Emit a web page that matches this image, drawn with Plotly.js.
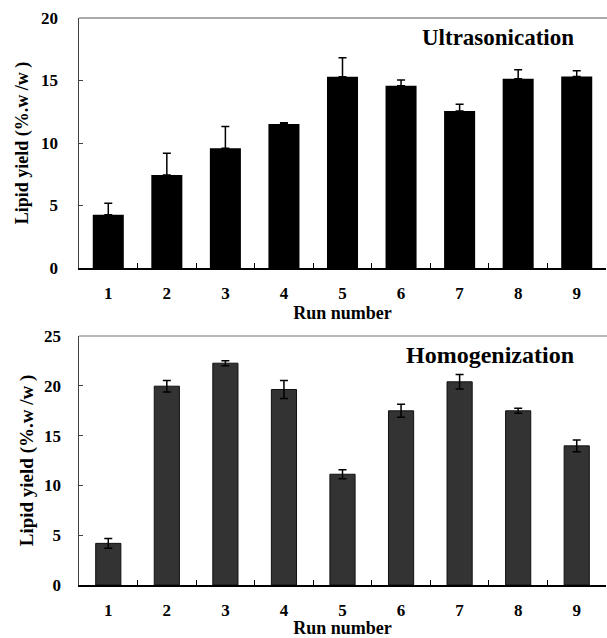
<!DOCTYPE html>
<html>
<head>
<meta charset="utf-8">
<script src="https://cdn.plot.ly/plotly-3.0.1.min.js"></script>
<style>html,body{margin:0;padding:0;background:#fff;}#chart{width:607px;height:638px;}</style>
</head>
<body>
<div id="chart"></div>
<script>
const runs = ['1','2','3','4','5','6','7','8','9'];
const ultraYield = [4.26, 7.45, 9.58, 11.52, 15.3, 14.58, 12.56, 15.14, 15.33];
const ultraErr = [0.93, 1.74, 1.73, 0.1, 1.52, 0.46, 0.54, 0.72, 0.45];
const homoYield = [4.18, 19.96, 22.27, 19.63, 11.12, 17.49, 20.4, 17.49, 13.97];
const homoErr = [0.5, 0.57, 0.25, 0.9, 0.45, 0.65, 0.73, 0.25, 0.6];
const panelLabels = ['Ultrasonication', 'Homogenization'];
const xTitle = 'Run number';
const yTitle = 'Lipid yield (%.w /w )';

const serif = 'Liberation Serif, Times New Roman, serif';
const tickFont = {family: serif, size: 17, color: '#000', weight: 'bold'};
const font = (s) => ({family: serif, size: s, color: '#000', weight: 'bold'});

const traces = [
  {type: 'bar', x: runs, y: ultraYield, xaxis: 'x', yaxis: 'y', width: 0.53,
   marker: {color: '#000', line: {width: 0}},
   error_y: {type: 'data', array: ultraErr, symmetric: false, arrayminus: ultraErr.map(() => 0), color: '#000', thickness: 1.5, width: 4},
   hoverinfo: 'skip'},
  {type: 'bar', x: runs, y: homoYield, xaxis: 'x2', yaxis: 'y2', width: 0.43,
   marker: {color: '#333333', line: {color: '#111', width: 1}},
   error_y: {type: 'data', array: homoErr, color: '#000', thickness: 1.5, width: 4},
   hoverinfo: 'skip'}
];

const W = 607, H = 638;
const px = v => v / W;
const py = v => 1 - v / H;

function xAxis(anchor, tstand) {
  return {domain: [px(79), px(606)], anchor: anchor, type: 'category',
    showline: true, linecolor: '#000', linewidth: 1.5,
    ticks: 'inside', tickson: 'boundaries', ticklen: 5, tickcolor: '#000', tickwidth: 1,
    tickfont: tickFont, showgrid: false, zeroline: false, ticklabelstandoff: 9,
    title: {text: xTitle, font: font(18), standoff: tstand}};
}
function yAxis(anchor, dom, range, lstand, tsize, tstand) {
  return {domain: dom, anchor: anchor, range: range, dtick: 5,
    showline: true, linecolor: '#404040', linewidth: 1.5,
    ticks: 'inside', ticklen: 4, tickcolor: '#404040', tickwidth: 1,
    tickfont: tickFont, showgrid: false, zeroline: false, ticklabelstandoff: lstand,
    title: {text: yTitle, font: font(tsize), standoff: tstand}};
}

const layout = {
  width: W, height: H, margin: {l: 0, r: 0, t: 0, b: 0},
  paper_bgcolor: '#fff', plot_bgcolor: '#fff', showlegend: false,
  xaxis: xAxis('y', 2),
  yaxis: yAxis('x', [py(268), py(18)], [0, 20], 16, 18, 8),
  xaxis2: xAxis('y2', 4),
  yaxis2: yAxis('x2', [py(585), py(336)], [0, 25], 13, 19, 5),
  shapes: [
    {type: 'line', xref: 'x domain', yref: 'y domain', x0: 0, x1: 1.01, y0: 1, y1: 1, line: {color: '#8c8c8c', width: 1.5}},
    {type: 'line', xref: 'x2 domain', yref: 'y2 domain', x0: 0, x1: 1.01, y0: 1, y1: 1, line: {color: '#a0a0a0', width: 1.5}}
  ],
  annotations: [
    {text: panelLabels[0], xref: 'paper', yref: 'paper', x: px(576), y: py(38), xanchor: 'right', yanchor: 'middle', showarrow: false,
     font: font(23)},
    {text: panelLabels[1], xref: 'paper', yref: 'paper', x: px(576), y: py(355), xanchor: 'right', yanchor: 'middle', showarrow: false,
     font: font(24)}
  ]
};

Plotly.newPlot('chart', traces, layout, {staticPlot: true, displayModeBar: false});
</script>
</body>
</html>
